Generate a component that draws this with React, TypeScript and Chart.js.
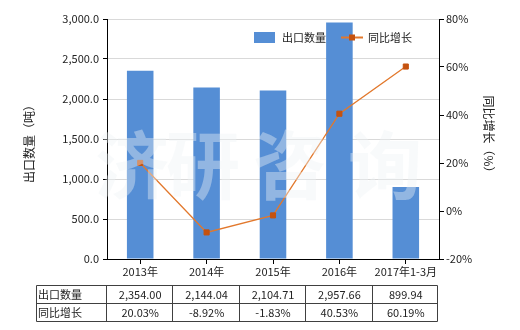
import React, { useEffect, useRef } from "react";
import { Chart, registerables } from "chart.js";

Chart.register(...registerables);

const categories = ["2013年", "2014年", "2015年", "2016年", "2017年1-3月"];
const exportVolume = [2354.0, 2144.04, 2104.71, 2957.66, 899.94];
const growthRate = [20.03, -8.92, -1.83, 40.53, 60.19];
const volumeLabels = ["2,354.00", "2,144.04", "2,104.71", "2,957.66", "899.94"];
const growthLabels = ["20.03%", "-8.92%", "-1.83%", "40.53%", "60.19%"];
const seriesNames = ["出口数量", "同比增长"];
const leftAxisTitle = "出口数量（吨）";
const rightAxisTitle = "同比增长（%）";
const watermarkChars = ["济", "研", "咨", "询"];

const FONT = '"Noto Sans CJK SC", "Noto Sans", sans-serif';
const BAR_COLOR = "#558ed5";
const LINE_COLOR = "#e2782c";
const MARKER_COLOR = "#c5520f";
const TEXT_COLOR = "#222";

const overlayPlugin = {
  id: "overlay",
  afterDatasetsDraw(chart: any) {
    const ctx = chart.ctx as CanvasRenderingContext2D;
    ctx.save();
    ctx.font = `bold 74px ${FONT}`;
    ctx.fillStyle = "rgba(238,242,244,0.40)";
    ctx.textAlign = "center";
    ctx.textBaseline = "middle";
    const xs = [132, 203, 290, 385];
    watermarkChars.forEach((c, i) => ctx.fillText(c, xs[i], 165));
    ctx.restore();
  },
  afterDraw(chart: any) {
    const ctx = chart.ctx as CanvasRenderingContext2D;
    const x = chart.scales.x;
    ctx.save();
    ctx.fillStyle = TEXT_COLOR;
    ctx.font = `11px ${FONT}`;
    ctx.textBaseline = "middle";

    // legend
    ctx.fillStyle = BAR_COLOR;
    ctx.fillRect(254, 32, 21, 11);
    ctx.fillStyle = TEXT_COLOR;
    ctx.textAlign = "left";
    ctx.fillText(seriesNames[0], 282, 38);
    ctx.strokeStyle = LINE_COLOR;
    ctx.lineWidth = 2;
    ctx.beginPath();
    ctx.moveTo(341, 37.5);
    ctx.lineTo(363, 37.5);
    ctx.stroke();
    ctx.fillStyle = MARKER_COLOR;
    ctx.fillRect(349, 34.5, 6, 6);
    ctx.fillStyle = TEXT_COLOR;
    ctx.fillText(seriesNames[1], 368, 38);

    // axis titles
    ctx.font = `12px ${FONT}`;
    ctx.textAlign = "center";
    ctx.save();
    ctx.translate(29, 141);
    ctx.rotate(-Math.PI / 2);
    ctx.fillText(leftAxisTitle, 0, 0);
    ctx.restore();
    ctx.save();
    ctx.translate(489, 137);
    ctx.rotate(Math.PI / 2);
    ctx.fillText(rightAxisTitle, 0, 0);
    ctx.restore();

    // data table
    ctx.font = `11px ${FONT}`;
    const top = 285.5;
    const rowH = 18;
    const left = 36.5;
    const centers = categories.map((_, i) => x.getPixelForValue(i));
    const half = (centers[1] - centers[0]) / 2;
    const bounds = [Math.round(centers[0] - half) - 0.5];
    centers.forEach((c) => bounds.push(Math.round(c + half) - 0.5));
    const right = bounds[bounds.length - 1] - 1;
    bounds[bounds.length - 1] = right;
    ctx.strokeStyle = "#404040";
    ctx.lineWidth = 1;
    ctx.beginPath();
    for (let r = 0; r <= 2; r++) {
      ctx.moveTo(left, top + r * rowH);
      ctx.lineTo(right, top + r * rowH);
    }
    ctx.moveTo(left, top);
    ctx.lineTo(left, top + 2 * rowH);
    bounds.forEach((b) => {
      ctx.moveTo(b, top);
      ctx.lineTo(b, top + 2 * rowH);
    });
    ctx.stroke();

    ctx.fillStyle = TEXT_COLOR;
    ctx.textAlign = "left";
    ctx.fillText(seriesNames[0], 38, top + rowH / 2);
    ctx.fillText(seriesNames[1], 38, top + rowH * 1.5);
    ctx.textAlign = "center";
    centers.forEach((c, i) => {
      ctx.fillText(volumeLabels[i], c, top + rowH / 2 + 0.5);
      ctx.fillText(growthLabels[i], c, top + rowH * 1.5 + 0.5);
    });
    ctx.restore();
  },
};

export default function App() {
  const canvasRef = useRef<HTMLCanvasElement | null>(null);

  useEffect(() => {
    if (!canvasRef.current) return;
    const tickFont = { family: FONT, size: 11 };
    const chart = new Chart(canvasRef.current, {
      type: "bar",
      data: {
        labels: categories,
        datasets: [
          {
            type: "line",
            label: seriesNames[1],
            data: growthRate,
            yAxisID: "y1",
            borderColor: LINE_COLOR,
            borderWidth: 1.3,
            pointStyle: "rect",
            pointRadius: 3.6,
            pointBackgroundColor: MARKER_COLOR,
            pointBorderColor: MARKER_COLOR,
            pointBorderWidth: 1,
            tension: 0,
            order: 0,
          } as any,
          {
            type: "bar",
            label: seriesNames[0],
            data: exportVolume,
            yAxisID: "y",
            backgroundColor: BAR_COLOR,
            barPercentage: 0.4,
            categoryPercentage: 1.0,
            order: 1,
          } as any,
        ],
      },
      options: {
        responsive: false,
        animation: false,
        devicePixelRatio: 1,
        layout: { padding: { top: 19, left: 0, right: 0, bottom: 0 } },
        plugins: {
          legend: { display: false },
          tooltip: { enabled: false },
          title: { display: false },
        },
        scales: {
          x: {
            offset: true,
            grid: {
              drawOnChartArea: false,
              offset: false,
              tickLength: 5,
              tickColor: "#000",
            },
            border: { color: "#000", width: 1 },
            ticks: { font: tickFont, color: TEXT_COLOR, padding: 1, maxRotation: 0, autoSkip: false },
            afterFit: (s: any) => {
              s.height = 71;
            },
          },
          y: {
            position: "left",
            min: 0,
            max: 3000,
            ticks: {
              stepSize: 500,
              font: tickFont,
              color: TEXT_COLOR,
              padding: 4,
              callback: (v: any) =>
                Number(v).toLocaleString("en-US", { minimumFractionDigits: 1, maximumFractionDigits: 1 }),
            },
            grid: { color: "#d9d9d9", tickColor: "#000", tickLength: 4 },
            border: { color: "#000", width: 1 },
            afterFit: (s: any) => {
              s.width = 107;
            },
          },
          y1: {
            position: "right",
            min: -20,
            max: 80,
            ticks: {
              stepSize: 20,
              font: tickFont,
              color: TEXT_COLOR,
              padding: 2,
              callback: (v: any) => `${v}%`,
            },
            grid: { drawOnChartArea: false, tickColor: "#000", tickLength: 5 },
            border: { color: "#000", width: 1 },
            afterFit: (s: any) => {
              s.width = 81;
            },
          },
        },
      },
      plugins: [overlayPlugin],
    });
    return () => chart.destroy();
  }, []);

  return (
    <div style={{ position: "absolute", left: 0, top: 0, width: 520, height: 330, background: "#fff" }}>
      <canvas ref={canvasRef} width={520} height={330} style={{ display: "block" }} />
    </div>
  );
}
